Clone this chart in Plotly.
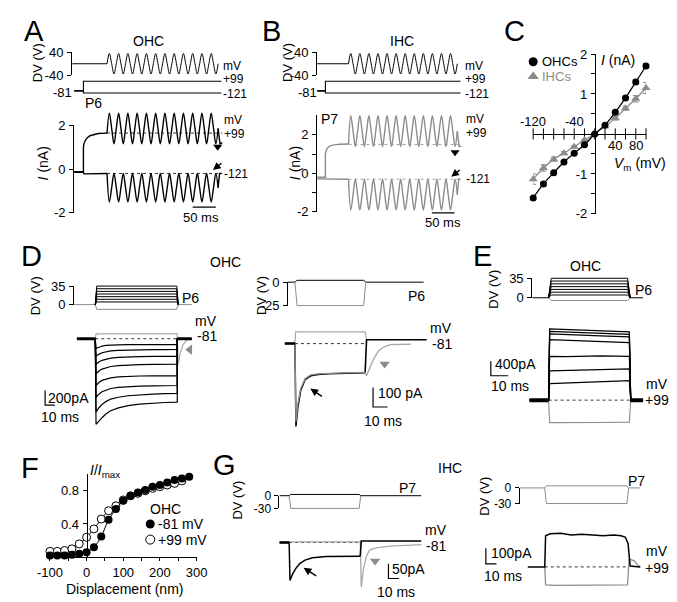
import plotly.graph_objects as go

W, H = 677, 602
FONT = "Liberation Sans, Arial, sans-serif"
BLK = "#000000"
GRY = "#8c8c8c"
LGRY = "#a8a8a8"

# ======================= DATA =======================
# --- Panels A/B: sinusoidal DV stimulation (times in ms, DV in V, I in nA)
AB_STEP_ON = 14
AB_SINE_ON = 65
AB_SINE_OFF = 305
AB_QUARTER_MS = 5
AB_CYCLES = 12
ab_hold_mV = -81
ab_step_mV = [99, -121]
dv_cycle = [35, 0, -35, 0]

# A (OHC, P6)
a_up_rise_t = [-6, 14, 14, 15, 18, 22, 28, 36, 46, 65]
a_up_rise = [-0.12, -0.12, 1.0, 1.15, 1.3, 1.42, 1.52, 1.58, 1.62, 1.64]
a_up_cycle = [2.55, 1.85, 1.15, 1.85]
a_up_post_t = [305, 309, 314]
a_up_post = [1.85, 1.15, 1.2]
a_lo_pre_t = [-6, 14, 15, 65]
a_lo_pre = [-0.15, -0.15, -0.22, -0.2]
a_lo_cycle = [-1.5, -0.85, -0.2, -0.85]
a_lo_post_t = [305, 308, 312]
a_lo_post = [-0.85, -0.2, -0.2]
a_dash = [1.64, -0.2]

# B (IHC, P7)
b_up_rise_t = [-6, 14, 14, 15, 18, 22, 28, 36, 46, 65]
b_up_rise = [-0.2, -0.2, 1.0, 1.15, 1.3, 1.4, 1.46, 1.5, 1.52, 1.53]
b_up_cycle = [3.0, 2.2, 1.4, 2.2]
b_up_post_t = [305, 309, 314]
b_up_post = [2.2, 1.4, 1.42]
b_lo_pre_t = [-6, 14, 15, 65]
b_lo_pre = [-0.28, -0.28, -0.3, -0.3]
b_lo_cycle = [-1.9, -1.1, -0.3, -1.1]
b_lo_post_t = [305, 308, 312]
b_lo_post = [-1.1, -0.3, -0.3]
b_dash = [1.5, -0.3]

# --- Panel C: I-V relation
c_vm = [-120, -100, -80, -60, -40, -20, 0, 20, 40, 60, 80, 100]
c_ohc = [-1.6, -1.25, -0.97, -0.7, -0.48, -0.27, 0.0, 0.22, 0.54, 0.9, 1.3, 1.7]
c_ohc_err = [0.04, 0.04, 0.03, 0.03, 0.02, 0.02, 0.0, 0.02, 0.03, 0.04, 0.05, 0.06]
c_ihc = [-1.13, -0.85, -0.63, -0.48, -0.32, -0.15, 0.0, 0.19, 0.39, 0.64, 0.88, 1.15]
c_ihc_err = [0.13, 0.08, 0.05, 0.04, 0.03, 0.02, 0.0, 0.02, 0.04, 0.05, 0.08, 0.14]
c_xticks = [-120, -100, -80, -60, -40, -20, 0, 20, 40, 60, 80, 100]

# --- Panel D left: OHC currents at -81 mV (t ms, I pA)
dl_step_levels = [35, 30, 25, 20, 15, 10, 5]
dl_step_gray = -9
dl_t = [-19, 0, 0.8, 2, 4, 7, 11, 16, 24, 34, 46, 60, 72, 85, 85, 100]
dl_traces = [
    [0, 0, -133, -125, -112, -100, -92, -87, -84, -82, -80, -80, -80, -80, 0, 0],
    [0, 0, -240, -228, -210, -192, -178, -166, -158, -153, -150, -149, -148, -147, 0, 0],
    [0, 0, -350, -335, -315, -295, -278, -265, -255, -248, -244, -242, -240, -240, 0, 0],
    [0, 0, -480, -462, -438, -415, -395, -380, -368, -360, -354, -350, -348, -347, 0, 0],
    [0, 0, -640, -620, -595, -570, -550, -535, -523, -515, -510, -508, -507, -507, 0, 0],
    [0, 0, -800, -780, -755, -725, -700, -680, -665, -655, -648, -644, -641, -640, 0, 0],
    [0, 0, -1000, -975, -940, -900, -860, -825, -800, -780, -765, -757, -750, -747, 0, 0],
    [0, 0, -1170, -1150, -1120, -1080, -1030, -985, -945, -915, -895, -880, -872, -867, 0, 0],
]
dl_gray_t = [0, 0.8, 85, 86, 88, 91, 95, 100]
dl_gray = [0, 67, 67, -350, -200, -80, -15, 0]
dl_scale = (200, 10)

# --- Panel D right: single-step OHC currents (t ms, I pA)
dr_t = [-7, 0, 0.7, 2, 4, 7, 11, 16, 24, 34, 48.5]
dr_black = [0, 0, -425, -330, -240, -185, -165, -158, -155, -152, -150]
dr_black_post_t = [48.5, 49.5, 91]
dr_black_post = [-150, 20, 20]
dr_gray = [0, 0, -400, -310, -230, -180, -160, -155, -152, -150, -148]
dr_gray_post_t = [48.5, 49.5, 52, 55, 58, 62, 66, 80]
dr_gray_post = [-148, -165, -120, -70, -35, -15, -5, -3]
dr_top_t = [0, 0.5, 48.5, 49.5]
dr_top = [0, 60, 60, 20]
dr_scale = (100, 10)

# --- Panel E: OHC currents at +99 mV (t ms, I pA)
e_step_levels = [35, 30, 25, 20, 15, 10, 5]
e_step_gray = -5
e_t = [-11, 0, 0.6, 10, 30, 46.5, 47.3, 54.4]
e_traces = [
    [0, 0, 1947, 1930, 1900, 1867, 0, 0],
    [0, 0, 1880, 1860, 1830, 1800, 0, 0],
    [0, 0, 1813, 1790, 1760, 1733, 0, 0],
    [0, 0, 1653, 1640, 1600, 1573, 0, 0],
    [0, 0, 1200, 1190, 1210, 1200, 0, 0],
    [0, 0, 800, 810, 840, 853, 0, 0],
    [0, 0, 453, 470, 500, 533, 0, 0],
]
e_gray = [0, 0, -613, -615, -610, -600, 0, 0]
e_scale = (400, 10)

# --- Panel F: normalized MET current vs displacement
f_disp = [-100, -80, -60, -40, -20, 0, 20, 40, 60, 80, 100, 120, 140, 160, 180, 200, 220, 240, 260, 280]
f_m81 = [0.02, 0.02, 0.02, 0.03, 0.04, 0.06, 0.12, 0.25, 0.45, 0.58, 0.68, 0.74, 0.78, 0.81, 0.85, 0.87, 0.9, 0.93, 0.95, 0.97]
f_p99_disp = [-100, -80, -60, -40, -20, 0, 20, 40, 60, 80, 100, 120, 140, 160, 180, 200, 220, 240, 260]
f_p99 = [0.07, 0.07, 0.08, 0.1, 0.16, 0.24, 0.34, 0.46, 0.56, 0.62, 0.69, 0.74, 0.77, 0.8, 0.83, 0.85, 0.87, 0.89, 0.92]

# --- Panel G left: IHC currents at -81 mV (t ms, I pA)
gl_t = [-9, 0, 0.8, 3, 6, 10, 15, 22, 35, 50, 67]
gl_black = [0, 0, -130, -110, -90, -72, -60, -52, -48, -47, -47]
gl_black_post_t = [67, 68, 124.5]
gl_black_post = [-47, 5, 5]
gl_gray_t = [0, 0.5, 67, 68, 70, 73, 76, 82, 95, 124.5]
gl_gray = [0, 2, 2, -153, -90, -45, -25, -18, -12, -7]
gl_scale = (50, 10)

# --- Panel G right: IHC currents at +99 mV (t ms, I pA)
gr_black_t = [-16, 0, 0.8, 5, 15, 25, 35, 45, 55, 65, 72, 76, 78.5, 80.5, 90]
gr_black = [0, 0, 200, 212, 215, 205, 210, 205, 200, 205, 200, 190, 150, 5, 0]
gr_gray_t = [0, 0.8, 10, 40, 78, 79.5, 84, 88, 90]
gr_gray = [0, -115, -119, -119, -115, 50, 40, 10, 0]
gr_scale = (100, 10)

# ======================= HELPERS =======================
fig = go.Figure()
AXN = [0]
CLEAR = 'rgba(0,0,0,0)'


def lin(p, pa, va, pb, vb):
    return va + (p - pa) * (vb - va) / (pb - pa)


def add_axes(xbox, ybox, xmap, ymap, yextra=None, xextra=None, pad=0.0):
    AXN[0] += 1
    i = AXN[0]
    sfx = '' if i == 1 else str(i)
    xr = [lin(xbox[0], *xmap), lin(xbox[1], *xmap)]
    yr = [lin(ybox[1], *ymap), lin(ybox[0], *ymap)]
    d = (yr[1] - yr[0]) * pad
    yr = [yr[0] - d, yr[1] + d]
    xa = dict(domain=[xbox[0] / W, xbox[1] / W], range=xr, visible=False,
              anchor='y' + sfx, fixedrange=True, showgrid=False, zeroline=False)
    ya = dict(domain=[1 - ybox[1] / H, 1 - ybox[0] / H], range=yr, visible=False,
              anchor='x' + sfx, fixedrange=True, showgrid=False, zeroline=False)
    if xextra:
        xa.update(xextra)
    if yextra:
        ya.update(yextra)
    fig.update_layout(**{'xaxis' + sfx: xa, 'yaxis' + sfx: ya})
    fig.add_trace(go.Scatter(x=[xr[0]], y=[yr[0]], mode='markers', marker=dict(opacity=0),
                             hoverinfo='skip', showlegend=False, xaxis='x' + sfx, yaxis='y' + sfx))
    return 'x' + sfx, 'y' + sfx


def bracket(xpx, ytop, ybot, vtop, vbot, vals, texts, fsize=13):
    return add_axes((xpx, xpx + 3), (ytop, ybot), (xpx, 0, xpx + 3, 1), (ytop, vtop, ybot, vbot), pad=0.002,
                    yextra=dict(visible=True, showline=True, linecolor=BLK, linewidth=1, ticks='outside',
                                ticklen=4, tickwidth=1, tickcolor=BLK, tickvals=vals, ticktext=texts,
                                ticklabelstandoff=1,
                                tickfont=dict(family=FONT, size=fsize, color=BLK)))


def line(ax, t, v, color=BLK, width=1.1, shape='linear', dash=None):
    fig.add_trace(go.Scatter(x=t, y=v, mode='lines', xaxis=ax[0], yaxis=ax[1], hoverinfo='skip',
                             showlegend=False, line=dict(color=color, width=width, shape=shape, dash=dash)))


def marker(ax, x, y, symbol, color, size=9):
    fig.add_trace(go.Scatter(x=[x], y=[y], mode='markers', xaxis=ax[0], yaxis=ax[1], hoverinfo='skip',
                             showlegend=False, cliponaxis=False,
                             marker=dict(symbol=symbol, color=color, size=size, line=dict(width=0))))


def txt(s, x, y, size=14, xanchor='center', angle=0, color=BLK):
    fig.add_annotation(text=s, x=x / W, y=1 - y / H, xref='paper', yref='paper', showarrow=False,
                       xanchor=xanchor, yanchor='middle', textangle=angle, borderpad=0,
                       font=dict(family=FONT, size=size, color=color))


def arrow(xh, yh, dx, dy):
    fig.add_annotation(x=xh / W, y=1 - yh / H, xref='paper', yref='paper', ax=dx, ay=dy,
                       showarrow=True, arrowhead=2, arrowsize=1.1, arrowwidth=1.4, arrowcolor=BLK, text='')


def step_trace(t_pre, t_on, t_off, t_end, level, ramp=1.5):
    return [t_pre, t_on, t_on + ramp, t_off - ramp, t_off, t_end], [0, 0, level, level, 0, 0]


def scalebar(ax, t0, i0, amp, dur):
    line(ax, [t0, t0, t0 + dur], [i0 + amp, i0, i0], color=BLK, width=1.2)


sine_t = [AB_SINE_ON + AB_QUARTER_MS * k for k in range(4 * AB_CYCLES + 1)]

# ======================= PANEL A & B =======================
for (xax, tpx0, pxms, cur_map, cur_box, brk_cur, col, up, lo, dash, lab) in [
    (53, 58, 0.48, (113, 2, 203, -2), (92, 215), (55, 113, 203, 2, -2, [2, 0, -2], ['2', '0', '-2']), BLK,
     (a_up_rise_t, a_up_rise, a_up_cycle, a_up_post_t, a_up_post),
     (a_lo_pre_t, a_lo_pre, a_lo_cycle, a_lo_post_t, a_lo_post), a_dash, 'A'),
    (307, 309, 0.47, (123, 2, 202, -2), (98, 215), (307, 103, 202, 3, -2, [2, 1, 0, -1, -2], ['2', '', '0', '', '-2']), GRY,
     (b_up_rise_t, b_up_rise, b_up_cycle, b_up_post_t, b_up_post),
     (b_lo_pre_t, b_lo_pre, b_lo_cycle, b_lo_post_t, b_lo_post), b_dash, 'B')]:
    xmap = (tpx0, 0, tpx0 + 50 * pxms, 50)
    xbox = (xax, xax + 180)
    # sine stimulus
    ax = add_axes(xbox, (30, 70), xmap, (38, 40, 62, -40))
    bracket(xax, 38, 62, 40, -40, [40, -40], ['40', '-40'])
    line(ax, [-10, AB_SINE_ON], [0, 0], width=1)
    line(ax, sine_t, [0] + dv_cycle * AB_CYCLES, width=1, shape='spline')
    # voltage steps
    ax = add_axes(xbox, (62, 88), xmap, (68, 99, 80, -121))
    for lvl in ab_step_mV:
        line(ax, [-6, AB_STEP_ON, AB_STEP_ON, 312], [ab_hold_mV, ab_hold_mV, lvl, lvl], width=1.1)
    # currents
    ax = add_axes((xax, xax + 185), cur_box, xmap, cur_map)
    bracket(*brk_cur)
    rt, rv, cyc, pt, pv = up
    line(ax, rt, rv, color=col, width=1.4)
    line(ax, sine_t, [rv[-1]] + cyc * AB_CYCLES, color=col, width=1.4, shape='spline')
    line(ax, pt, pv, color=col, width=1.4)
    rt, rv, cyc, pt, pv = lo
    line(ax, rt, rv, color=col, width=1.4)
    line(ax, sine_t, [rv[-1]] + cyc * AB_CYCLES, color=col, width=1.4, shape='spline')
    line(ax, pt, pv, color=col, width=1.4)
    for d in dash:
        line(ax, [AB_SINE_ON, 314], [d, d], color=col, width=0.8, dash='dot')
    # 50 ms bar
    sb_y = lin(197 if lab == 'A' else 203, *cur_map)
    sb_t0 = lin((178 if lab == 'A' else 426), tpx0, 0, tpx0 + 50 * pxms, 50)
    line(ax, [sb_t0, sb_t0 + 50], [sb_y, sb_y], width=1.3)
    # triangle marker
    if lab == 'A':
        marker(ax, 304, 1.02, 'triangle-down', BLK, 8)
        arrow(199, 159, 10, -8)
    else:
        marker(ax, 300, 1.1, 'triangle-down', BLK, 8)
        arrow(446, 166, 10, -8)

# Panel A/B texts
txt('A', 13, 16, 29)
txt('B', 260, 16, 29)
txt('OHC', 132, 27)
txt('IHC', 395, 27)
for (dvx, labx, ylab_x, px, py, pl, curl) in [(17, 208, 23, 75, 90, 'P6', (108, 122, 163)),
                                               (277, 459, 284, 320, 107, 'P7', (107, 121, 168))]:
    txt('DV (V)', dvx, 49, 13, angle=-90)
    txt('mV', labx, 52, 12, 'left')
    txt('+99', labx, 66, 12, 'left')
    txt('-121', labx, 81, 12, 'left')
    txt('<i>I</i> (nA)', ylab_x, 152, 14, angle=-90)
    txt(pl, px, py, 14)
    txt('mV', labx + 1, curl[0], 12, 'left')
    txt('+99', labx + 1, curl[1], 12, 'left')
    txt('-121', labx + 1, curl[2], 12, 'left')
txt('-81', 54, 79, 13, 'right')
txt('-81', 308, 79, 13, 'right')
txt('50 ms', 187, 208, 13)
txt('50 ms', 437, 213, 13)

# ======================= PANEL C =======================
fig.update_layout(
    xaxis99=dict(domain=[531 / W, 648 / W], range=[-120, 100], anchor='free', position=1 - 122 / H,
                 showline=True, linecolor=BLK, linewidth=1, ticks='', showticklabels=False,
                 showgrid=False, zeroline=False, fixedrange=True),
    yaxis99=dict(domain=[1 - 204 / H, 1 - 40 / H], range=[-2, 2], anchor='free', position=595 / W,
                 showline=True, linecolor=BLK, linewidth=1, ticks='outside', ticklen=4, tickcolor=BLK,
                 tickvals=[-2, -1.5, -1, -0.5, 0, 0.5, 1, 1.5, 2],
                 ticktext=['-2', '', '-1', '', '', '', '1', '', '2'], ticklabelstandoff=1,
                 tickfont=dict(family=FONT, size=13, color=BLK),
                 showgrid=False, zeroline=False, fixedrange=True))
fig.add_trace(go.Scatter(x=c_xticks, y=[0] * len(c_xticks), mode='markers', xaxis='x99', yaxis='y99',
                         cliponaxis=False, hoverinfo='skip', showlegend=False,
                         marker=dict(symbol='line-ns-open', size=8, color=BLK, line=dict(width=1, color=BLK))))
fig.add_trace(go.Scatter(x=c_vm, y=c_ihc, mode='lines+markers', xaxis='x99', yaxis='y99', cliponaxis=False,
                         showlegend=False, hoverinfo='skip',
                         line=dict(color=GRY, width=1.3, shape='spline'),
                         error_y=dict(type='data', array=c_ihc_err, color=GRY, thickness=1, width=3),
                         marker=dict(symbol='triangle-up', size=8, color=GRY)))
fig.add_trace(go.Scatter(x=c_vm, y=c_ohc, mode='lines+markers', xaxis='x99', yaxis='y99', cliponaxis=False,
                         showlegend=False, hoverinfo='skip',
                         line=dict(color=BLK, width=1.3, shape='spline'),
                         error_y=dict(type='data', array=c_ohc_err, color=BLK, thickness=1, width=3),
                         marker=dict(symbol='circle', size=7, color=BLK)))
for v, yshift in [(-120, 12), (-40, 12), (40, -12), (80, -12)]:
    fig.add_annotation(text=str(v), x=v, y=0, xref='x99', yref='y99', showarrow=False, yshift=yshift,
                       borderpad=0, font=dict(family=FONT, size=13, color=BLK))
txt('C', 512, 16, 29)
txt('<i>I</i> (nA)', 600, 46, 14, 'left')
txt('<i>V</i><sub>m</sub> (mV)', 614, 153, 14, 'left')
txt('OHCs', 539, 48, 13, 'left')
txt('IHCs', 539, 63, 13, 'left', color=GRY)

# ======================= PANEL D left =======================
xmap = (77, 0, 78, 1)
ax = add_axes((55, 190), (268, 308), xmap, (278, 35, 297, 0))
bracket(55, 278, 297, 35, 0, [35, 0], ['35', '0'])
line(ax, [-22, 0], [0, 0], color=GRY, width=1)
line(ax, [86, 100], [0, 0], color=GRY, width=1)
t, v = step_trace(0, 0, 86, 86, dl_step_gray)
line(ax, t, v, color=GRY, width=1)
for lvl in dl_step_levels:
    t, v = step_trace(0, 0, 86, 86, lvl)
    line(ax, t, v, color=BLK, width=1)
ax = add_axes((15, 190), (305, 430), xmap, (332, 0, 347, -200))
line(ax, [0, 85], [0, 0], color=BLK, width=0.8, dash='dot')
line(ax, dl_gray_t, dl_gray, color=LGRY, width=1.2)
for tr in dl_traces:
    line(ax, dl_t, tr, color=BLK, width=1.2)
line(ax, [-19, 0], [0, 0], color=BLK, width=3)
line(ax, [85, 100], [0, 0], color=BLK, width=3)
scalebar(ax, -52, -907, dl_scale[0], dl_scale[1])
marker(ax, 98, -150, 'triangle-left', GRY, 9)
txt('D', 11, 247, 29)
txt('OHC', 212, 253)
txt('DV (V)', 15, 288, 13, angle=-90)
txt('P6', 176, 290)
txt('mV', 192, 314)
txt('-81', 193, 329)
txt('200pA', 27, 393, 14, 'left')
txt('10 ms', 40, 412, 14)

# ======================= PANEL D right =======================
xmap = (284, 0, 299, 10)
ax = add_axes((262, 440), (262, 310), xmap, (274, 0, 298, -25))
bracket(277, 274, 298, 0, -25, [0, -25], ['0', '-25'])
t, v = step_trace(-5, 0, 49, 89, 2)
line(ax, t, v, color=BLK, width=1)
t, v = step_trace(0, 0, 49, 49, -25)
line(ax, t, v, color=GRY, width=1)
ax = add_axes((262, 440), (310, 430), xmap, (337, 0, 357, -100))
line(ax, [0, 49], [0, 0], color=BLK, width=0.8, dash='dot')
line(ax, dr_top_t, dr_top, color=LGRY, width=1.2)
line(ax, dr_t, dr_black, color=BLK, width=1.5)
line(ax, dr_black_post_t, dr_black_post, color=BLK, width=1.6)
line(ax, dr_t[1:], dr_gray[1:], color=GRY, width=1.3)
line(ax, dr_gray_post_t, dr_gray_post, color=LGRY, width=1.4)
line(ax, [-7, 0], [0, 0], color=BLK, width=2.5)
scalebar(ax, 54, -325, dr_scale[0], dr_scale[1])
marker(ax, 62, -105, 'triangle-down', GRY, 9)
arrow(300, 383, 13, 9)
txt('DV (V)', 250, 288, 13, angle=-90)
txt('P6', 410, 288)
txt('mV', 435, 321)
txt('-81', 436, 337)
txt('100 pA', 369, 388, 14, 'left')
txt('10 ms', 375, 416, 14)

# ======================= PANEL E =======================
xmap = (547, 0, 565, 10)
ax = add_axes((480, 677), (262, 300), xmap, (270, 35, 290, 0))
bracket(530, 270, 290, 35, 0, [35, 0], ['35', '0'])
line(ax, [-9.4, 0], [0, 0], color=BLK, width=1)
line(ax, [47, 54.4], [0, 0], color=BLK, width=1)
t, v = step_trace(0, 0, 47, 47, e_step_gray)
line(ax, t, v, color=GRY, width=1)
for lvl in e_step_levels:
    t, v = step_trace(0, 0, 47, 47, lvl)
    line(ax, t, v, color=BLK, width=1)
ax = add_axes((480, 677), (312, 425), xmap, (395, 0, 380, 400))
line(ax, [0, 47], [0, 0], color=BLK, width=0.8, dash='dot')
line(ax, e_t, e_gray, color=GRY, width=1.1)
for tr in e_traces:
    line(ax, e_t, tr, color=BLK, width=1.2)
line(ax, [-11, 0], [0, 0], color=BLK, width=4)
line(ax, [47, 54.4], [0, 0], color=BLK, width=4)
scalebar(ax, -33.3, 667, e_scale[0], e_scale[1])
txt('E', 478, 247, 29)
txt('OHC', 585, 257)
txt('DV (V)', 490, 281, 13, angle=-90)
txt('P6', 645, 282)
txt('400pA', 490, 358, 14, 'left')
txt('10 ms', 507, 380, 14)
txt('mV', 672, 378, 14, 'right')
txt('+99', 673, 395, 14, 'right')

# ======================= PANEL F =======================
fig.update_layout(
    xaxis98=dict(domain=[30 / W, 182 / W], range=[-100, 300], anchor='y98', showline=True, linecolor=BLK,
                 linewidth=1, ticks='outside', ticklen=3, tickcolor=BLK, ticklabelstandoff=0,
                 tickvals=[-100, -50, 0, 50, 100, 150, 200, 250, 300],
                 ticktext=['-100', '', '0', '', '100', '', '200', '', '300'],
                 tickfont=dict(family=FONT, size=13, color=BLK),
                 showgrid=False, zeroline=False, fixedrange=True),
    yaxis98=dict(domain=[1 - 556 / H, 1 - 471 / H], range=[0, 1.0], anchor='free', position=68 / W,
                 showline=True, linecolor=BLK, linewidth=1, ticks='outside', ticklen=4, tickcolor=BLK,
                 tickvals=[0.4, 0.8], ticktext=['0.4', '0.8'], ticklabelstandoff=1,
                 tickfont=dict(family=FONT, size=13, color=BLK),
                 showgrid=False, zeroline=False, fixedrange=True))
fig.add_trace(go.Scatter(x=f_p99_disp, y=f_p99, mode='lines+markers', xaxis='x98', yaxis='y98', cliponaxis=False,
                         showlegend=False, hoverinfo='skip', line=dict(color=BLK, width=1, shape='spline'),
                         marker=dict(symbol='circle', size=8, color='white', line=dict(color=BLK, width=1))))
fig.add_trace(go.Scatter(x=f_disp, y=f_m81, mode='lines+markers', xaxis='x98', yaxis='y98', cliponaxis=False,
                         showlegend=False, hoverinfo='skip', line=dict(color=BLK, width=1, shape='spline'),
                         marker=dict(symbol='circle', size=8, color=BLK)))
txt('F', 9, 465, 29)
txt('<i>I</i>/<i>I</i><sub>max</sub>', 71, 468, 14, 'left')
txt('Displacement (nm)', 107, 589, 14)
txt('OHC', 150, 507, 14)
txt('-81 mV', 141, 522, 14, 'left')
txt('+99 mV', 141, 538, 14, 'left')

# ======================= PANEL G left =======================
xmap = (278, 0, 289, 10)
ax = add_axes((262, 430), (485, 512), xmap, (493, 0, 506, -30))
bracket(268, 493, 506, 0, -30, [0, -30], ['0', '-30'], 12)
t, v = step_trace(-9, 0, 67.5, 124.5, 3)
line(ax, t, v, color=BLK, width=1)
t, v = step_trace(0, 0, 67.5, 67.5, -30)
line(ax, t, v, color=GRY, width=1)
ax = add_axes((262, 430), (530, 600), xmap, (541, 0, 556, -50))
line(ax, [0, 67], [0, 0], color=BLK, width=0.8, dash='dot')
line(ax, gl_gray_t, gl_gray, color=LGRY, width=1.3)
line(ax, gl_t, gl_black, color=BLK, width=1.5)
line(ax, gl_black_post_t, gl_black_post, color=BLK, width=1.6)
line(ax, [-9, 0], [0, 0], color=BLK, width=2.5)
scalebar(ax, 93.6, -123, gl_scale[0], gl_scale[1])
marker(ax, 81, -63, 'triangle-down', GRY, 9)
arrow(293, 567, 14, 9)
txt('G', 211, 462, 29)
txt('IHC', 445, 465)
txt('DV (V)', 225, 498, 13, angle=-90)
txt('P7', 401, 485)
txt('mV', 430, 528)
txt('-81', 430, 545)
txt('50pA', 384, 568, 14, 'left')
txt('10 ms', 389, 592, 14)

# ======================= PANEL G right =======================
xmap = (543, 0, 554, 10)
ax = add_axes((470, 677), (476, 508), xmap, (485, 0, 501, -30))
bracket(517, 485, 501, 0, -30, [0, -30], ['0', '-30'], 12)
t, v = step_trace(-23.6, 0, 79, 90, 4)
line(ax, t, v, color=GRY, width=1)
t, v = step_trace(0, 0, 79, 79, -30)
line(ax, t, v, color=GRY, width=1)
ax = add_axes((470, 677), (525, 598), xmap, (566, 0, 550, 100))
line(ax, [0, 79], [0, 0], color=BLK, width=0.8, dash='dot')
line(ax, gr_gray_t, gr_gray, color=GRY, width=1.3)
line(ax, gr_black_t, gr_black, color=BLK, width=1.5)
scalebar(ax, -55.5, 19, gr_scale[0], gr_scale[1])
txt('DV (V)', 481, 493, 13, angle=-90)
txt('P7', 638, 478)
txt('100pA', 486, 552, 14, 'left')
txt('10 ms', 500, 575, 14)
txt('mV', 672, 550, 14, 'right')
txt('+99', 673, 567, 14, 'right')

# ======================= legend glyphs (pixel overlay) =======================
pax = add_axes((0, W), (0, H), (0, 0, W, W), (0, 0, H, H))
marker(pax, 531, 48, 'circle', BLK, 9)
marker(pax, 531, 63, 'triangle-up', GRY, 10)
marker(pax, 134, 522, 'circle', BLK, 9)
fig.add_trace(go.Scatter(x=[134], y=[538], mode='markers', xaxis=pax[0], yaxis=pax[1], hoverinfo='skip',
                         showlegend=False, marker=dict(symbol='circle-open', size=9, color=BLK,
                                                       line=dict(width=1, color=BLK))))

fig.update_layout(width=W, height=H, margin=dict(l=0, r=0, t=0, b=0), plot_bgcolor=CLEAR,
                  paper_bgcolor='white', showlegend=False, font=dict(family=FONT, color=BLK))
fig.write_html("out.html")
